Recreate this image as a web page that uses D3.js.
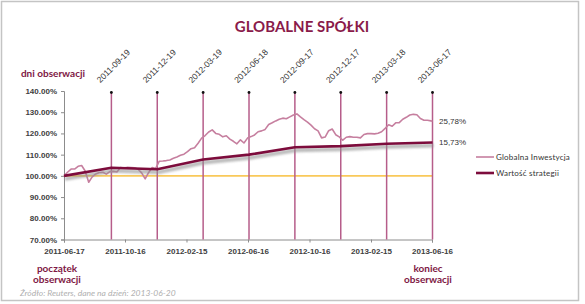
<!DOCTYPE html>
<html>
<head>
<meta charset="utf-8">
<script src="https://cdn.jsdelivr.net/npm/d3@7"></script>
<style>
body { margin: 0; background: #fff; }
svg { display: block; font-family: Lato, "Open Sans", sans-serif; }
</style>
</head>
<body>
<svg width="585" height="304"></svg>
<script>
// observation days (vertical lines) and strategy value on each of them
var obsDates = ["2011-09-19", "2011-12-19", "2012-03-19", "2012-06-18",
  "2012-09-17", "2012-12-17", "2013-03-18", "2013-06-17"];

var strategyDates = ["2011-06-17", "2011-09-19", "2011-12-19", "2012-03-19", "2012-06-18",
  "2012-09-17", "2012-12-17", "2013-03-18", "2013-06-17"];
var strategyValues = [100, 103.8, 103.1, 107.7, 110.0, 113.5, 114.0, 115.1, 115.73];

// Globalna Inwestycja, weekly closes from 2011-06-17
var giStart = "2011-06-17";
var giValues = [
  100.0, 101.7, 103.2, 103.2, 104.5, 104.9, 102.3, 97.0, 99.5, 100.9,
  101.6, 101.7, 100.8, 102.0, 102.1, 101.8, 103.9, 103.7, 104.0, 103.9,
  103.8, 103.1, 101.4, 98.6, 101.6, 103.9, 103.5, 106.9, 107.0, 107.2,
  107.5, 108.3, 108.9, 109.7, 110.2, 111.4, 112.8, 113.3, 115.4, 117.8,
  119.0, 120.7, 121.7, 120.0, 119.6, 118.4, 118.9, 117.3, 116.3, 115.1,
  117.0, 115.5, 117.8, 118.5, 119.3, 120.8, 121.2, 121.9, 124.2, 125.0,
  125.9, 126.7, 127.2, 126.9, 127.8, 128.7, 129.2, 127.8, 126.5, 125.3,
  123.9, 122.2, 121.2, 117.9, 118.3, 121.3, 122.1, 119.4, 118.4, 116.8,
  118.2, 118.5, 118.2, 118.2, 117.9, 119.5, 119.9, 119.9, 119.8, 120.1,
  120.8, 122.4, 124.1, 123.4, 125.0, 125.1, 126.7, 127.6, 128.7, 129.0,
  128.8, 127.0, 126.2, 126.2, 125.9
];
var giEndDate = "2013-06-17";
var giEndValue = 125.78;

var xTickDates = ["2011-06-17", "2011-10-16", "2012-02-15", "2012-06-16",
  "2012-10-16", "2013-02-15", "2013-06-16"];
var yTicks = [70, 80, 90, 100, 110, 120, 130, 140];
var baseLevel = 100;

var svg = d3.select("svg");
var parse = d3.timeParse("%Y-%m-%d");
var fmt = d3.timeFormat("%Y-%m-%d");
var tickFont = "'Liberation Sans', Arial, sans-serif";

var x = d3.scaleTime()
  .domain([parse("2011-06-17"), parse("2013-06-16")])
  .range([64, 432]);
var y = d3.scaleLinear().domain([70, 140]).range([239.5, 91]);

var gi = giValues.map(function(v, i) {
  return { date: d3.timeDay.offset(parse(giStart), 7 * i), value: v };
});
gi.push({ date: parse(giEndDate), value: giEndValue });

var strategy = strategyDates.map(function(d, i) {
  return { date: parse(d), value: strategyValues[i] };
});

// frame
svg.append("rect")
  .attr("x", 1.5).attr("y", 1.5).attr("width", 577).attr("height", 299)
  .attr("fill", "#fff").attr("stroke", "#c4c4c4").attr("stroke-width", 1.5);

var defs = svg.append("defs");
defs.append("filter").attr("id", "blur")
  .append("feGaussianBlur").attr("stdDeviation", 1);

svg.append("text")
  .attr("x", 302).attr("y", 32)
  .attr("text-anchor", "middle")
  .attr("font-size", 15).attr("font-weight", "bold")
  .attr("fill", "#8a1a4a")
  .text("GLOBALNE SPÓŁKI");

svg.append("text")
  .attr("x", 53).attr("y", 77)
  .attr("text-anchor", "middle")
  .attr("font-size", 10).attr("font-weight", "bold")
  .attr("fill", "#7e1744")
  .text("dni obserwacji");

// axes
var yAxis = d3.axisLeft(y)
  .tickValues(yTicks)
  .tickSize(3)
  .tickPadding(4)
  .tickFormat(function(d) { return d3.format(".2f")(d) + "%"; });

var xAxis = d3.axisBottom(x)
  .tickValues(xTickDates.map(parse))
  .tickSize(3)
  .tickPadding(6)
  .tickFormat(fmt);

var gy = svg.append("g").attr("transform", "translate(64,0)").call(yAxis);
var gx = svg.append("g").attr("transform", "translate(0," + y(70) + ")").call(xAxis);

[gy, gx].forEach(function(g) {
  g.selectAll("path, line").attr("stroke", "#8c8c8c");
  g.selectAll("text")
    .attr("font-family", tickFont)
    .attr("font-size", 8).attr("font-weight", "bold")
    .attr("fill", "#404040");
});

// base 100% line
svg.append("line")
  .attr("x1", x(parse("2011-06-17"))).attr("x2", x(parse("2013-06-17")))
  .attr("y1", y(baseLevel)).attr("y2", y(baseLevel))
  .attr("stroke", "#f9c95a").attr("stroke-width", 1.6);

// observation lines
var obs = svg.append("g").selectAll("g")
  .data(obsDates)
  .enter().append("g");

obs.append("line")
  .attr("x1", function(d) { return x(parse(d)); })
  .attr("x2", function(d) { return x(parse(d)); })
  .attr("y1", y(140) + 1).attr("y2", y(70))
  .attr("stroke", "#b65d8a").attr("stroke-width", 1.5);

obs.append("circle")
  .attr("cx", function(d) { return x(parse(d)); })
  .attr("cy", y(140) + 1.5)
  .attr("r", 1.4)
  .attr("fill", "#111");

obs.append("text")
  .attr("transform", function(d) {
    return "translate(" + (x(parse(d)) + 2) + ",66) rotate(-45)";
  })
  .attr("text-anchor", "middle")
  .attr("dy", "0.35em")
  .attr("font-family", tickFont)
  .attr("font-size", 8.5)
  .attr("fill", "#333")
  .text(function(d) { return d; });

var line = d3.line()
  .x(function(d) { return x(d.date); })
  .y(function(d) { return y(d.value); });

svg.append("path")
  .datum(gi)
  .attr("d", line)
  .attr("fill", "none")
  .attr("stroke", "#c67f9f")
  .attr("stroke-width", 1.6)
  .attr("stroke-linejoin", "round");

// strategy shadow + line
svg.append("path")
  .datum(strategy)
  .attr("d", line)
  .attr("transform", "translate(1,3)")
  .attr("fill", "none")
  .attr("stroke", "#8f8f8f")
  .attr("stroke-opacity", 0.6)
  .attr("stroke-width", 4)
  .attr("filter", "url(#blur)");

svg.append("path")
  .datum(strategy)
  .attr("d", line)
  .attr("fill", "none")
  .attr("stroke", "#7d0c3c")
  .attr("stroke-width", 2.6)
  .attr("stroke-linejoin", "round");

// end labels
var endLabels = [
  { value: giEndValue, text: d3.format(".2f")(giEndValue - 100).replace(".", ",") + "%" },
  { value: strategyValues[strategyValues.length - 1],
    text: d3.format(".2f")(strategyValues[strategyValues.length - 1] - 100).replace(".", ",") + "%" }
];
svg.append("g").selectAll("text")
  .data(endLabels)
  .enter().append("text")
  .attr("x", 439)
  .attr("y", function(d) { return y(d.value); })
  .attr("dy", "0.35em")
  .attr("font-family", tickFont)
  .attr("font-size", 8)
  .attr("fill", "#333")
  .text(function(d) { return d.text; });

// legend
var legend = [
  { name: "Globalna Inwestycja", color: "#c67f9f", width: 1.6, y: 157 },
  { name: "Wartość strategii", color: "#7d0c3c", width: 2.6, y: 173 }
];
var lg = svg.append("g").selectAll("g")
  .data(legend)
  .enter().append("g");
lg.append("line")
  .attr("x1", 476).attr("x2", 494)
  .attr("y1", function(d) { return d.y; }).attr("y2", function(d) { return d.y; })
  .attr("stroke", function(d) { return d.color; })
  .attr("stroke-width", function(d) { return d.width; });
lg.append("text")
  .attr("x", 496)
  .attr("y", function(d) { return d.y; })
  .attr("dy", "0.35em")
  .attr("font-size", 8)
  .attr("letter-spacing", 0.2)
  .attr("fill", "#333")
  .text(function(d) { return d.name; });

// start / end captions
var captions = [
  { x: 57, lines: ["początek", "obserwacji"] },
  { x: 428, lines: ["koniec", "obserwacji"] }
];
captions.forEach(function(c) {
  c.lines.forEach(function(t, i) {
    svg.append("text")
      .attr("x", c.x).attr("y", 272 + i * 11)
      .attr("text-anchor", "middle")
      .attr("font-size", 10).attr("font-weight", "bold")
      .attr("fill", "#7e1744")
      .text(t);
  });
});

svg.append("text")
  .attr("x", 20).attr("y", 296)
  .attr("font-size", 8.5).attr("font-style", "italic")
  .attr("fill", "#b0b0b0")
  .text("Źródło: Reuters, dane na dzień: 2013-06-20");
</script>
</body>
</html>
